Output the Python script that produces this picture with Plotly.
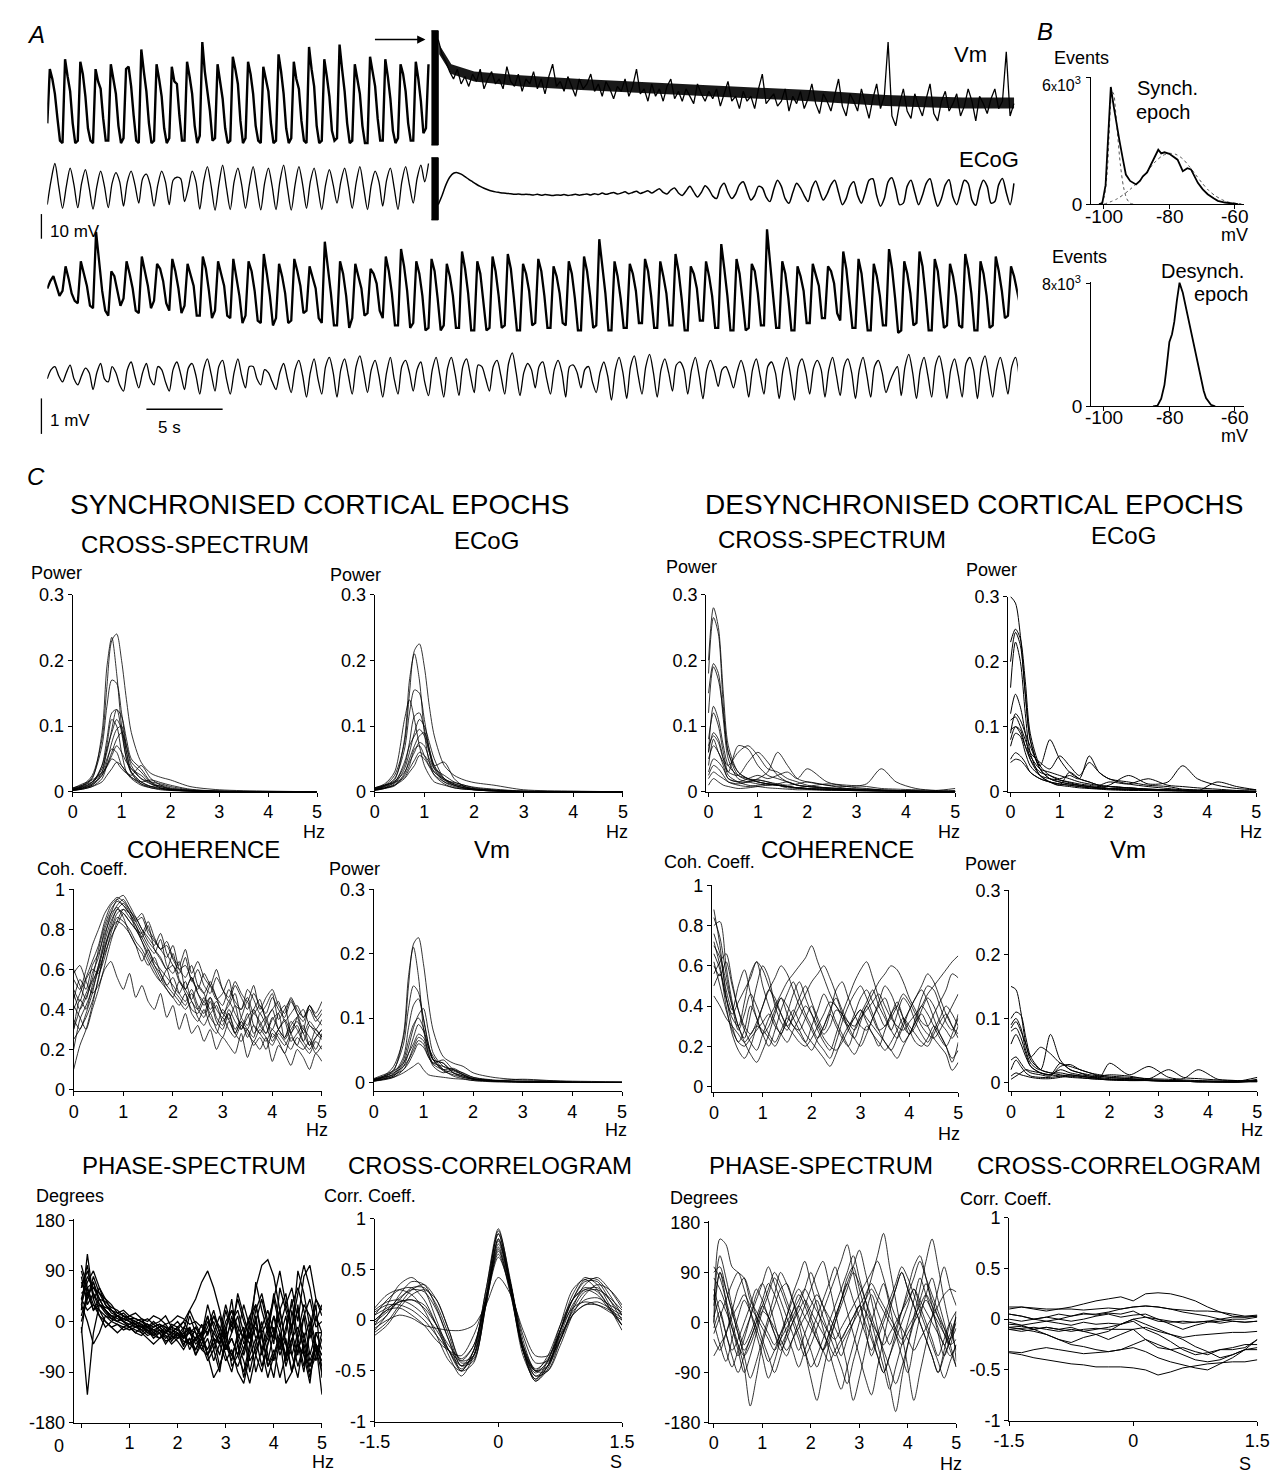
import numpy as np
import plotly.graph_objects as go

W, H = 1285, 1482
FONT = "Liberation Sans, Arial, sans-serif"

# ================= Panel A : raw traces (Vm in mV, ECoG in mV) =================
vm1_sync_dt = 1 / 6
vm1_sync = [-88,-66,-70,-76,-86,-95, -96,-62,-69,-75,-88,-96, -95,-63,-68,-77,-90,-95, -96,-66,-71,-74,-86,-95,
            -95,-64,-70,-76,-89,-96, -94,-66,-65,-73,-85,-95, -96,-58,-67,-75,-88,-96, -95,-64,-70,-77,-90,-96,
            -94,-65,-71,-72,-85,-95, -95,-63,-69,-76,-89,-96, -93,-55,-67,-75,-83,-95, -94,-64,-72,-78,-90,-96,
            -95,-61,-66,-72,-87,-96, -94,-63,-68,-76,-89,-95, -96,-65,-70,-75,-88,-96, -95,-60,-67,-76,-90,-96,
            -94,-63,-70,-74,-87,-95, -96,-57,-66,-73,-89,-96, -95,-62,-69,-77,-91,-95, -94,-56,-66,-75,-88,-96,
            -95,-64,-70,-76,-89,-96, -96,-61,-67,-73,-86,-95, -95,-62,-69,-78,-91,-96, -94,-64,-68,-75,-88,-95,
            -95,-63,-70,-79,-92,-90, -64]
vm1_desync_t0 = 25.64
vm1_desync_dt = 0.25
vm1_desync = [-54,-60,-63,-67,-70,-66,-72,-69, -73,-68,-71,-66,-74,-70,-67,-72, -70,-74,-65,-71,-73,-68,-75,-70,
              -72,-67,-74,-70,-76,-69,-64,-73, -71,-75,-69,-73,-77,-70,-74,-72, -68,-75,-72,-77,-71,-74,-78,-73,
              -75,-70,-77,-73,-66,-76,-74,-79, -72,-77,-74,-79,-73,-70,-78,-75, -79,-74,-77,-80,-72,-76,-79,-75,
              -78,-74,-81,-76,-71,-79,-77,-82, -75,-79,-77,-82,-74,-68,-80,-78, -76,-81,-79,-74,-83,-77,-80,-75,
              -82,-78,-72,-80,-84,-76,-79,-83, -77,-70,-81,-85,-76,-79,-83,-74, -80,-86,-78,-72,-82,-77,-55,-85,
              -89,-80,-74,-83,-86,-76,-81,-85, -78,-72,-84,-87,-79,-75,-83,-80, -76,-85,-81,-74,-79,-87,-77,-80,
              -84,-78,-74,-82,-79,-59,-85,-80]
# envelope of the dense membrane-potential noise band after the stimulus
vm1_band_t = [25.7, 26.5, 28, 31, 35, 40, 45, 50, 55, 60, 63.4]
vm1_band_hi = [-56, -64, -67, -68.5, -70, -71.5, -73, -74.5, -76.5, -77.5, -77.5]
vm1_band_lo = [-60, -68, -71, -73, -74.5, -76, -77.5, -79, -81, -82, -82]
ecog1_sync_dt = 0.25
ecog1_sync = [-0.5,0.3,0.85,0.1, -0.62,0.1,0.7,0.15, -0.6,0.2,0.65,0.05, -0.65,0.1,0.6,0.1, -0.6,0.2,0.55,0.25,
              -0.55,0.25,0.6,0.15, -0.45,0.35,0.5,0.15, -0.55,0.15,0.6,0.25, -0.5,0.3,0.4,0.35, -0.4,0.05,0.6,0.25,
              -0.65,0.25,0.75,0.1, -0.68,0.15,0.8,0.05, -0.66,0.25,0.7,0.15, -0.62,0.15,0.75,0.05, -0.67,0.2,0.7,0.1,
              -0.66,0.25,0.8,0.05, -0.68,0.15,0.75,0.15, -0.62,0.25,0.7,0.05, -0.66,0.15,0.65,0.15, -0.45,0.25,0.7,0.1,
              -0.62,0.2,0.75,0.05, -0.66,0.15,0.6,0.25, -0.55,0.3,0.7,0.05, -0.66,0.25,0.75,0.15, -0.45,0.35,0.8,0.25,
              0.85]
ecog1_desync_t0 = 25.64
ecog1_desync_dt = 0.25
ecog1_desync = [-0.5,-0.2,0.15,0.4,0.53,0.55,0.5,0.42, 0.33,0.25,0.17,0.1,0.04,-0.01,-0.05,-0.08,
                -0.1,-0.12,-0.13,-0.14,-0.16,-0.15,-0.17,-0.16, -0.17,-0.18,-0.16,-0.19,-0.17,-0.18,-0.2,-0.18,
                -0.19,-0.17,-0.2,-0.18,-0.16,-0.19,-0.17,-0.15, -0.18,-0.14,-0.17,-0.12,-0.16,-0.13,-0.1,-0.15,
                -0.12,-0.08,-0.14,-0.1,-0.06,-0.13,-0.09,-0.04, -0.12,-0.05,0.02,-0.1,-0.15,-0.02,0.05,-0.12,
                -0.2,-0.05,0.1,-0.08,-0.25,-0.1,0.12,0.0, -0.22,-0.3,0.05,0.2,-0.1,-0.3,-0.15,0.15,
                0.25,-0.05,-0.35,-0.2,0.1,0.05,-0.25,-0.4, 0.0,0.3,0.1,-0.3,-0.45,-0.1,0.2,0.05,
                -0.2,-0.4,0.05,0.28,-0.05,-0.35,-0.15,0.15, 0.3,-0.1,-0.5,-0.3,0.1,0.25,-0.2,-0.45,
                -0.1,0.3,0.35,-0.2,-0.55,-0.3,0.25,0.38, 0.0,-0.5,-0.45,0.1,0.3,-0.1,-0.5,-0.2,
                0.2,0.35,-0.15,-0.55,-0.3,0.15,0.32,-0.25, -0.5,-0.1,0.3,0.2,-0.35,-0.52,0.0,0.3,
                0.1,-0.45,-0.4,0.15,0.36,-0.1,-0.5,0.2]
vm2_dt = 0.2
vm2 = [-81,-78,-76,-80,-84, -82,-72,-77,-83,-86, -87,-70,-75,-80,-88, -89,-58,-70,-82,-90, -92,-74,-76,-82,-88,
       -85,-70,-75,-81,-90, -91,-68,-74,-80,-89, -86,-71,-73,-78,-87, -90,-69,-74,-81,-91, -88,-71,-76,-80,-92,
       -92,-68,-73,-82,-93, -90,-70,-75,-80,-92, -93,-69,-76,-84,-95, -92,-70,-74,-82,-94, -95,-67,-75,-84,-96,
       -93,-71,-76,-83,-95, -94,-69,-74,-80,-91, -90,-72,-76,-81,-93, -95,-62,-72,-83,-96, -96,-70,-75,-84,-97,
       -93,-71,-76,-81,-92, -91,-73,-75,-79,-90, -93,-68,-74,-83,-96, -96,-65,-72,-82,-97, -95,-70,-75,-84,-98,
       -97,-69,-74,-85,-98, -96,-71,-76,-84,-97, -97,-66,-73,-83,-98, -98,-70,-75,-86,-98, -97,-68,-74,-84,-97,
       -96,-67,-73,-85,-98, -98,-71,-75,-82,-96, -95,-69,-74,-84,-97, -97,-72,-76,-83,-95, -96,-70,-75,-85,-98,
       -98,-68,-74,-84,-97, -96,-61,-72,-83,-98, -98,-70,-76,-85,-97, -97,-71,-75,-82,-95, -95,-69,-74,-84,-97,
       -97,-70,-76,-83,-96, -96,-67,-74,-85,-98, -98,-72,-75,-81,-94, -94,-70,-76,-84,-97, -97,-63,-73,-84,-98,
       -98,-69,-75,-86,-98, -97,-71,-74,-83,-96, -96,-57,-72,-84,-97, -97,-70,-75,-85,-98, -98,-72,-76,-82,-95,
       -95,-71,-75,-80,-93, -93,-72,-74,-79,-91, -94,-66,-73,-84,-97, -97,-69,-75,-86,-98, -98,-71,-76,-84,-96,
       -96,-65,-73,-85,-99, -98,-70,-75,-83,-96, -95,-66,-72,-84,-98, -98,-69,-74,-85,-97, -96,-71,-76,-84,-96,
       -97,-67,-73,-83,-98, -98,-70,-75,-84,-97, -96,-68,-74,-82,-93, -92,-72,-76,-82,-88]
ecog2_dt = 0.25
ecog2 = [-0.1,0.2,0.3,0.0, -0.2,0.1,0.35,-0.1, -0.3,0.0,0.25,0.1, -0.45,0.1,0.4,-0.1, -0.2,0.3,0.1,-0.3,
         -0.5,0.2,0.45,0.0, -0.4,0.1,0.4,-0.1, -0.3,0.3,0.2,-0.2, -0.5,0.2,0.45,0.05, -0.45,0.25,0.4,0.0,
         -0.6,0.2,0.55,0.05, -0.5,0.3,0.5,-0.1, -0.6,0.1,0.55,0.0, -0.4,0.3,0.3,-0.1, -0.3,0.2,0.1,-0.2,
         -0.45,0.1,0.4,-0.1, -0.55,0.2,0.5,0.0, -0.7,0.1,0.55,-0.1, -0.6,0.3,0.6,0.1, -0.7,0.2,0.55,0.0,
         -0.6,0.3,0.65,0.1, -0.55,0.2,0.5,0.0, -0.7,0.1,0.6,-0.1, -0.6,0.3,0.5,0.1, -0.5,0.2,0.45,-0.2,
         -0.65,0.2,0.6,0.0, -0.7,0.25,0.6,0.05, -0.65,0.3,0.55,0.0, -0.55,0.35,0.3,-0.1, -0.5,0.3,0.5,0.0,
         -0.6,0.4,0.75,0.1, -0.65,0.1,0.4,0.2, -0.4,0.3,0.45,-0.1, -0.6,0.2,0.5,0.1, -0.7,0.3,0.35,0.1,
         -0.4,0.2,0.3,-0.2, -0.55,0.1,0.45,0.0, -0.8,0.2,0.6,0.1, -0.75,0.3,0.65,0.0, -0.6,0.3,0.7,0.1,
         -0.7,0.2,0.55,0.1, -0.5,0.35,0.45,0.2, -0.6,0.2,0.6,0.0, -0.75,0.2,0.5,0.15, -0.35,0.2,0.3,0.0,
         -0.4,0.15,0.5,0.1, -0.7,0.2,0.55,0.0, -0.6,0.3,0.45,0.1, -0.75,0.2,0.6,0.0, -0.8,0.3,0.55,0.1,
         -0.6,0.25,0.5,0.2, -0.7,0.2,0.6,0.0, -0.65,0.3,0.55,0.1, -0.75,0.2,0.6,0.0, -0.7,0.3,0.5,0.1,
         -0.55,-0.2,0.1,0.3, -0.65,0.3,0.7,0.1, -0.75,0.2,0.6,0.0, -0.7,0.35,0.65,0.1, -0.75,0.2,0.55,0.0,
         -0.7,0.4,0.6,0.2, -0.75,0.3,0.65,0.0, -0.7,0.2,0.6,0.1, -0.6,0.3,0.6,-0.1]
artifact_t = [25.19, 25.64]
artifact_vm = [-96.8, -50.4]
artifact_ecog = [-1.0, 1.04]
trace_span_s = 63.65

# ================= Panel B : Vm histograms (events x10^3) =================
syn_mv = [-101.5,-100.5,-99.5,-98.5,-97.9,-97,-96,-95.3,-94.3,-93.3,-92,-90.2,-89,-88.1,-86.8,-85.6,-84.5,-83.4,
          -82.5,-81.5,-80,-79,-77.5,-75.9,-74.5,-73.4,-72.3,-71.3,-69.8,-68.3,-66.5,-65.2,-63,-61.1,-59]
syn_ev = [0,0.05,0.9,3.6,5.53,4.6,3.6,3.04,2.2,1.4,1.1,0.93,1.1,1.32,1.5,1.87,2.2,2.57,2.4,2.45,2.38,2.25,2.1,
          1.56,1.7,1.64,1.3,1.01,0.7,0.47,0.28,0.16,0.08,0.03,0]
fit1_mv = [-101,-100,-99,-98.5,-98,-97.5,-97,-96.5,-96,-95,-94,-93,-92,-91]
fit1_ev = [0,0.3,1.5,3.0,4.6,5.3,5.2,4.5,3.6,1.9,0.8,0.25,0.05,0]
fit2_mv = [-100,-96,-92,-88,-86,-84,-82,-80,-78,-76,-74,-72,-70,-68,-66,-64,-62,-60,-58]
fit2_ev = [0,0.25,0.7,1.3,1.7,2.05,2.3,2.4,2.35,2.15,1.8,1.4,1.0,0.65,0.4,0.22,0.1,0.05,0.02]
des_mv = [-85,-83.6,-82.5,-81.5,-81,-80,-79.2,-78.5,-77.7,-76.9,-75.9,-75,-74.4,-73.3,-72.3,-71.3,-70.3,-69.5,
          -68.8,-67.3,-66]
des_ev = [0,0.05,0.5,1.4,2.26,4.2,4.7,5.5,6.9,8.06,7.4,6.5,5.9,4.7,3.8,2.6,1.6,1.0,0.54,0.1,0]
hist_ticks = [-100, -80, -60]
hist_tick_labels = ["-100", "-80", "-60"]

# ================= Panel C : spectral analysis (power values x1e-3) =================
f_syn = [0,0.2,0.4,0.6,0.7,0.8,0.9,1.0,1.1,1.2,1.4,1.6,1.8,2.0,2.4,3,4,5]
f_des = [0,0.1,0.2,0.3,0.4,0.6,0.8,1.0,1.2,1.4,1.6,1.8,2.0,2.4,2.8,3.2,3.5,3.8,4.2,4.6,5]
f_coh = [0,.125,.25,.375,.5,.625,.75,.875,1,1.125,1.25,1.375,1.5,1.625,1.75,1.875,2,2.125,2.25,2.375,2.5,
         2.625,2.75,2.875,3,3.125,3.25,3.375,3.5,3.625,3.75,3.875,4,4.125,4.25,4.375,4.5,4.625,4.75,4.875,5]
lags = [-1.5,-1.35,-1.2,-1.05,-0.9,-0.75,-0.6,-0.45,-0.3,-0.15,0,0.15,0.3,0.45,0.6,0.75,0.9,1.05,1.2,1.35,1.5]

syn_cross = [
    [5,10,25,80,160,230,240,200,140,90,45,28,22,18,8,3,1,0],
    [3,8,20,90,190,235,180,100,50,30,15,8,5,3,1,0,0,0],
    [4,9,22,70,130,170,165,120,70,40,20,12,8,5,2,1,0,0],
    [2,5,12,40,80,120,125,90,50,28,12,6,4,2,1,0,0,0],
    [3,6,15,35,60,95,125,115,80,50,35,15,8,4,2,1,0,0],
    [2,5,10,30,70,110,100,60,30,20,10,6,3,2,1,0,0,0],
    [4,8,14,40,65,90,110,95,60,35,25,12,6,3,1,0,0,0],
    [3,6,10,25,45,75,95,100,60,30,15,8,5,3,1,0,0,0],
    [2,4,8,20,40,60,80,90,70,45,30,14,6,3,1,0,0,0],
    [5,12,18,30,50,65,60,40,30,25,40,20,10,4,2,0,0,0],
    [3,7,12,25,40,55,70,60,45,35,20,15,12,8,3,1,0,0],
    [6,10,15,28,38,50,45,35,28,22,15,18,14,10,4,1,0,0],
    [2,4,8,15,25,35,45,40,30,22,12,8,10,6,2,0,0,0]]
syn_ecog = [
    [5,10,25,75,150,215,225,190,130,85,40,25,18,14,10,3,1,0],
    [3,8,18,80,170,210,170,90,45,25,12,6,4,3,1,0,0,0],
    [4,9,20,65,120,155,150,110,65,38,18,10,6,4,2,1,0,0],
    [6,12,30,110,140,110,70,40,25,15,10,6,4,3,1,0,0,0],
    [3,6,15,40,75,115,120,95,60,35,15,8,5,3,1,0,0,0],
    [2,5,12,35,60,90,110,100,75,50,20,10,6,3,1,0,0,0],
    [4,8,14,45,70,85,95,85,60,40,45,20,8,4,2,0,0,0],
    [3,6,10,28,50,70,85,90,65,40,20,12,8,4,2,0,0,0],
    [5,10,16,30,45,60,75,70,50,35,25,15,10,6,3,1,0,0],
    [2,5,9,25,40,65,70,55,40,30,20,12,8,5,2,0,0,0],
    [6,10,14,22,35,48,60,55,45,30,18,14,10,7,4,1,0,0],
    [3,6,10,20,30,40,55,50,38,26,15,10,6,4,2,0,0,0]]
syn_vm = [
    [5,10,25,70,150,215,225,185,125,80,40,30,25,15,8,4,2,1],
    [3,8,18,75,165,210,165,85,45,25,15,20,12,6,3,1,0,0],
    [4,9,20,60,115,150,140,100,60,35,18,12,8,5,2,1,0,0],
    [3,6,14,40,85,120,130,100,60,35,30,15,8,5,3,2,0,0],
    [2,5,10,30,55,85,105,115,80,45,25,18,12,6,3,2,1,0],
    [4,8,12,35,65,90,100,85,55,40,20,10,6,3,1,0,0,0],
    [6,12,18,30,45,60,75,70,50,35,30,15,10,5,2,1,0,0],
    [3,6,10,25,45,70,90,80,55,35,20,15,10,5,2,1,0,0],
    [2,4,8,20,35,55,70,65,45,30,25,20,15,8,3,1,0,0],
    [5,10,15,25,35,50,65,60,40,28,20,22,14,8,4,1,0,0],
    [2,5,8,15,20,25,30,20,12,10,8,6,5,3,2,1,0,0],
    [4,8,12,20,30,45,60,55,40,30,35,20,12,6,3,5,1,0]]
des_cross = [
    [200,280,250,150,70,30,20,15,12,10,8,6,5,4,3,2,2,1,1,0,0],
    [180,265,240,130,60,25,18,15,12,10,8,6,5,4,3,2,1,1,0,0,0],
    [150,195,180,110,50,20,15,12,10,10,8,6,4,3,2,2,1,1,0,0,0],
    [120,190,170,120,60,30,20,18,15,10,6,5,4,3,2,1,1,0,0,0,0],
    [60,130,110,70,40,25,20,15,12,10,8,6,5,4,3,2,1,1,0,0,0],
    [80,120,100,60,30,70,65,40,25,20,15,10,8,5,3,2,2,1,1,0,0],
    [70,85,75,50,40,60,70,55,35,30,20,15,10,6,5,4,3,2,1,1,0],
    [40,80,60,45,30,25,45,60,45,25,15,10,8,6,4,3,2,2,1,0,0],
    [50,70,60,40,20,15,15,20,30,60,40,20,15,10,5,3,2,1,1,0,0],
    [30,50,45,35,20,15,20,25,20,25,30,20,35,15,8,5,3,2,1,0,0],
    [20,30,25,20,15,12,15,18,15,12,10,12,15,10,8,12,35,15,5,2,1],
    [25,40,35,25,15,10,8,10,12,10,8,6,8,12,10,8,5,4,3,2,5],
    [10,20,15,10,8,5,6,8,10,12,15,10,8,6,4,3,2,2,1,1,2],
    [60,90,80,50,25,15,10,8,6,5,4,3,3,2,2,1,1,1,0,0,0]]
des_ecog = [
    [300,290,240,150,80,35,20,15,12,10,8,6,5,4,3,2,2,1,1,0,0],
    [230,250,235,170,90,40,25,18,14,10,8,6,5,4,3,2,2,1,1,1,0],
    [200,245,225,150,80,35,20,15,12,10,8,6,5,4,3,2,1,1,1,0,0],
    [160,230,200,120,60,25,15,10,8,6,5,4,3,2,2,1,1,1,0,0,0],
    [90,120,110,90,70,40,80,50,30,20,15,10,8,6,4,3,2,2,1,0,0],
    [110,115,100,80,60,45,35,55,40,25,45,30,20,12,8,5,3,2,1,1,0],
    [80,100,95,70,50,30,25,20,25,20,55,30,20,15,10,8,4,3,2,1,1],
    [70,90,85,60,40,25,20,18,15,12,10,8,10,25,12,15,40,20,10,5,3],
    [50,60,55,45,30,20,15,12,10,8,6,5,8,6,4,3,2,1,15,8,3],
    [95,100,90,70,55,35,30,25,20,15,12,10,15,12,20,10,8,6,4,2,1],
    [45,50,48,40,30,20,15,12,10,8,6,5,4,3,2,2,1,1,1,0,0],
    [120,150,130,90,50,25,15,10,30,20,15,10,8,6,4,3,2,2,1,1,0]]
des_vm = [
    [150,145,110,60,35,20,15,12,10,8,6,5,4,3,3,2,2,1,1,1,5],
    [100,110,105,70,40,20,15,15,12,10,8,6,5,4,3,2,2,2,1,1,3],
    [90,100,85,50,30,20,75,35,20,15,12,10,8,6,4,3,2,2,1,1,2],
    [85,95,80,60,40,55,45,30,25,20,15,10,8,6,4,3,2,2,1,1,2],
    [80,85,70,45,25,15,12,30,20,15,10,8,30,12,25,8,6,20,5,3,2],
    [35,40,30,20,15,12,10,25,28,20,15,12,10,8,6,5,4,3,2,2,8],
    [20,35,25,15,10,8,8,10,12,10,8,10,12,10,6,20,8,6,4,3,2],
    [10,15,12,10,8,6,6,8,10,10,8,6,5,4,3,2,2,1,1,1,3],
    [60,75,60,40,25,15,12,10,8,7,6,5,4,3,3,2,2,1,1,1,2],
    [5,10,15,20,18,15,12,20,15,12,10,8,6,5,4,3,2,2,2,1,1]]

# coherence (x100)
syn_coh = [
    [55,50,60,72,80,88,93,96,94,90,85,88,80,75,70,72,65,60,62,55,50,58,52,45,48,55,42,40,50,45,38,42,48,35,40,45,38,30,42,36,40],
    [30,40,48,55,70,82,90,94,92,88,80,76,82,70,65,60,68,55,50,45,52,48,40,44,38,35,42,30,36,40,32,28,35,38,25,30,34,28,22,30,26],
    [45,55,50,62,68,78,86,92,95,90,84,78,72,68,75,62,58,64,50,56,48,44,52,46,38,42,48,36,32,40,45,34,30,38,42,28,36,40,32,30,35],
    [20,35,42,50,60,74,84,90,93,89,86,80,74,70,66,60,62,54,50,56,48,42,46,40,36,44,38,32,30,38,34,28,36,30,26,34,30,24,32,28,25],
    [60,52,45,58,66,80,88,91,86,78,72,64,70,62,56,50,46,54,48,40,38,44,36,32,40,35,28,34,30,26,38,32,24,30,35,28,22,30,26,20,28],
    [35,30,38,48,62,76,88,95,97,92,86,80,76,72,78,68,62,58,66,54,60,52,48,56,50,44,52,46,40,48,42,38,46,40,36,44,38,34,42,36,32],
    [50,44,55,60,58,66,78,86,84,80,74,70,64,58,54,60,50,46,42,48,40,36,44,34,30,38,28,34,26,32,28,24,30,26,22,28,32,24,20,26,30],
    [25,30,36,44,55,70,80,88,90,86,82,76,70,64,60,56,52,48,54,44,40,46,38,42,34,38,30,36,44,32,28,34,40,30,26,32,36,28,34,30,26],
    [40,48,56,64,72,84,92,95,92,88,84,86,78,74,70,66,72,60,56,62,52,48,54,46,42,50,44,40,46,38,42,36,40,44,34,38,42,36,40,34,38],
    [10,22,30,42,56,70,82,90,88,84,80,74,68,62,58,52,48,44,40,44,36,32,38,30,26,34,28,24,30,22,26,20,28,24,18,26,22,20,24,18,22],
    [58,62,54,48,52,60,64,56,50,58,46,52,44,40,48,36,42,30,38,28,32,24,30,20,26,22,18,28,16,24,20,26,14,22,18,12,20,16,10,18,14],
    [30,45,40,52,62,72,80,84,82,78,72,68,62,66,58,52,56,48,44,50,42,38,46,36,32,40,34,30,38,28,32,36,26,30,34,24,28,32,22,26,30],
    [48,40,46,54,60,68,76,82,88,84,80,78,84,76,70,74,66,62,70,58,64,56,52,60,50,46,54,48,44,52,40,46,50,42,38,46,40,36,42,38,44],
    [42,36,30,40,50,62,74,84,90,88,82,74,66,60,54,50,46,42,48,38,34,40,32,28,36,30,26,32,28,24,30,26,22,28,24,20,26,22,18,24,20]]
des_coh = [
    [88,70,45,30,22,28,40,34,26,30,38,44,36,30,28,34,40,32,26,30,38,36,28,24,32,40,34,28,30,36,42,34,26,30,38,44,40,32,28,24,30],
    [80,82,60,42,30,24,36,50,60,54,40,32,28,36,44,50,42,34,28,36,48,52,44,36,30,28,34,42,50,46,38,30,26,34,44,50,48,40,32,28,36],
    [70,64,48,38,50,58,46,34,26,20,28,38,46,52,44,36,30,24,30,38,44,36,30,24,20,26,34,40,44,36,28,22,26,32,40,36,30,24,20,26,34],
    [60,55,62,50,38,28,22,18,26,34,40,46,52,56,60,64,70,62,54,46,40,36,32,30,34,38,42,46,40,34,30,28,32,36,40,46,50,54,58,62,65],
    [76,66,52,40,30,22,16,12,18,26,36,44,40,34,28,22,18,24,30,36,30,24,20,28,36,42,48,40,34,28,36,44,40,32,26,22,28,34,40,36,30],
    [50,56,44,36,42,48,54,62,58,50,42,36,30,34,40,46,52,56,60,54,46,38,32,28,34,40,46,52,56,60,58,52,44,38,32,30,36,42,48,56,54],
    [66,58,40,26,18,14,20,30,40,48,54,60,56,48,40,34,28,22,18,14,22,32,40,46,50,44,36,28,22,18,24,32,38,44,48,42,34,26,20,14,18],
    [84,74,56,40,28,36,46,40,32,26,22,28,34,30,26,22,30,38,46,40,32,26,20,16,22,30,26,20,28,36,40,34,28,22,20,24,30,26,20,12,22],
    [56,62,66,52,38,30,26,32,40,48,44,36,30,26,22,20,24,30,36,42,40,34,30,36,44,48,42,36,30,34,40,46,42,36,30,26,24,28,34,40,46],
    [45,40,34,30,26,22,26,30,28,24,20,26,32,38,32,26,22,18,14,10,16,24,30,34,38,32,26,22,18,22,28,34,30,26,22,20,26,32,36,30,24],
    [72,60,44,34,30,42,56,62,50,40,32,26,36,46,52,44,36,28,22,18,26,36,44,52,58,62,54,44,36,28,24,30,38,44,50,56,52,44,36,30,26],
    [62,50,38,28,22,20,24,28,32,36,30,26,22,28,34,40,36,30,24,20,18,22,28,34,38,34,30,26,22,18,14,20,26,32,36,30,24,20,16,8,12]]

# phase (degrees)
syn_phase = [
    [60,90,50,30,20,10,5,0,-5,-10,-8,-12,-15,-10,-20,-25,-15,0,20,40,70,90,60,20,-30,-60,-80,-50,0,60,100,110,80,20,-40,-60,-20,30,10,-40,-60],
    [20,120,40,60,30,15,10,5,0,-5,-10,-5,-15,-20,-10,-25,-30,-20,-40,-10,-30,-50,-20,10,-40,-70,-20,30,-10,-60,-90,-40,10,-50,-20,40,-30,-80,-20,30,-100],
    [-10,-130,-20,30,15,5,10,0,5,-5,0,-10,-5,-15,-20,-10,-30,-25,-10,-35,-20,10,-30,-60,-10,20,-20,-50,-10,30,-30,-70,-20,20,-40,-90,-30,10,-60,-20,-20],
    [40,80,60,50,40,20,15,10,5,0,-5,-10,-20,-15,-25,-30,-20,-35,-40,-30,-50,-60,-30,-40,-70,-50,-90,-110,-60,-30,-80,-40,-10,-60,-30,-90,-50,-20,-70,-40,-80],
    [80,30,50,20,10,0,-5,-10,-5,0,-10,-20,-10,-5,-15,-20,-25,-10,-20,-30,-5,-25,10,-20,30,-10,40,0,-30,20,50,0,-40,60,20,-20,90,50,-10,40,10],
    [50,60,70,40,35,25,20,10,5,5,0,-5,-10,-5,-10,-15,-20,-30,-20,-40,-30,-10,20,-20,-50,-30,-60,-90,-40,-10,-50,-100,-60,-20,-70,-30,-10,-50,-100,-40,-60],
    [30,0,-40,-20,10,5,0,-5,-10,-15,-20,-30,-40,-30,-20,-10,-15,-25,-40,-50,-30,-60,-40,-20,-50,-30,-60,-20,10,-30,-10,20,-20,-50,-10,30,60,20,-30,10,-20],
    [10,50,20,30,20,10,10,5,10,15,5,0,10,5,-5,0,10,5,-5,0,-10,-20,10,-10,-30,0,20,-20,-40,0,40,-10,-30,20,50,-20,-60,10,40,-10,0],
    [60,100,40,10,-10,0,10,0,-10,-20,-10,-15,-25,-20,-35,-30,-20,-40,-30,-50,-20,-60,-100,-80,-40,-60,-30,-10,-70,-50,-20,-80,-60,-30,-110,-90,-40,-60,-80,-40,-130],
    [0,40,70,30,25,20,10,15,5,0,5,-10,0,-10,-20,-5,-10,-30,-15,-20,-40,-20,0,-30,-50,-20,10,-40,-20,0,-50,-30,10,-20,-60,-10,20,-30,0,-50,-90],
    [40,20,30,10,0,-10,-5,-15,-10,-20,-25,-15,-30,-20,-40,-25,-35,-50,-30,-60,-40,-70,-50,-20,-60,-90,-40,-70,-110,-60,-20,-80,-50,-100,-60,-30,-80,-40,-90,-60,-20],
    [90,50,60,40,20,10,0,5,0,-10,-15,-5,-20,-10,-5,-20,-10,0,-20,-10,-30,0,-20,-40,0,20,-10,-30,10,30,-20,0,40,-10,30,60,0,80,100,40,20],
    [70,40,80,50,30,20,10,0,-10,-5,-15,-25,-20,-30,-15,-35,-20,-45,-10,-60,-30,10,-50,-90,-20,40,-40,-100,-50,10,-60,-20,50,0,-80,-40,30,-60,-110,-20,-50],
    [100,60,20,40,20,5,0,10,0,-5,-20,-10,-25,-15,-30,-20,-10,-30,10,-20,-50,-30,-70,-40,-10,-80,-60,-20,-90,-40,0,-60,-100,-30,-70,20,-40,-90,-10,-70,-30],
    [-20,60,30,20,0,-10,-20,-10,-15,-10,-5,-20,-25,-30,-25,-40,-30,-15,-50,-30,-20,-60,-30,-80,-40,10,-30,-60,-20,-90,-50,-10,-70,-30,10,-60,-100,-30,-80,-50,-70],
    [30,70,90,60,40,30,15,20,10,5,0,5,-5,0,10,-10,0,-15,20,-5,-25,30,-10,-40,20,-20,50,10,-30,70,20,-20,40,90,30,-10,50,100,60,0,30]]
des_phase = [
    [0,150,140,100,90,80,40,20,0,-20,-40,-20,0,20,40,60,40,20,0,-20,-30,-10,10,30,50,70,90,110,80,40,10,-10,-30,-50,-30,-10,10,30,50,60,55],
    [100,80,40,0,-40,-80,-150,-100,-40,0,30,60,70,40,0,-50,-100,-140,-90,-40,0,40,80,100,60,20,-20,-60,-90,-60,-20,20,60,100,120,80,30,-20,-60,-30,10],
    [30,90,40,-30,-60,-30,10,50,70,40,0,-40,-60,-30,0,30,60,90,110,70,20,-30,-80,-140,-100,-50,0,40,70,30,-20,-60,-90,-40,10,50,80,40,0,-40,-80],
    [-60,-40,-20,20,60,80,50,10,-30,-60,-90,-60,-20,20,50,30,0,-30,-50,-20,10,40,70,100,130,90,40,-10,-60,-110,-160,-100,-40,10,60,110,150,100,40,-10,-50],
    [40,120,80,30,-10,-40,-20,10,40,70,50,20,-20,-50,-80,-50,-20,10,40,70,100,60,20,-20,-60,-100,-130,-80,-30,20,60,90,60,30,0,-30,-60,-90,-50,0,20],
    [0,-40,-70,-30,10,40,20,-10,-40,-70,-50,-20,10,40,60,40,10,-20,-50,-30,0,30,60,90,70,40,10,-20,-50,-80,-110,-80,-40,0,40,70,40,10,-20,-50,-80],
    [80,60,30,-10,-50,-90,-60,-20,20,50,80,60,30,0,-30,-60,-40,-10,20,50,80,110,140,90,40,-10,-60,-30,0,30,60,90,60,30,0,-30,-60,-90,-60,-30,0],
    [-20,10,40,70,90,60,20,-20,-60,-100,-70,-30,10,50,80,110,70,30,-10,-50,-90,-120,-80,-40,0,40,80,120,160,100,40,-20,-80,-140,-90,-40,10,60,100,60,30],
    [60,20,-20,-50,-30,0,30,60,40,10,-20,-40,-20,0,20,40,20,0,-20,-40,-60,-40,-20,0,20,40,60,40,20,0,-20,-40,-20,0,20,40,20,0,-20,-40,-30],
    [10,40,20,-10,-40,-60,-40,-10,20,10,-10,-30,-50,-30,-10,10,30,50,30,10,-10,-30,-10,10,30,20,0,-20,-40,-20,0,20,40,60,40,20,0,-20,-40,-60,-40],
    [0,90,60,20,-20,-60,-100,-70,-30,10,50,90,70,40,10,-20,-50,-80,-50,-20,10,40,70,40,10,-20,-50,-20,10,40,70,100,80,50,20,-10,-40,-70,-100,-70,-40],
    [-30,-50,-20,10,30,50,30,10,-10,-30,-50,-30,-10,10,30,10,-10,-30,-50,-70,-50,-30,-10,10,30,50,70,50,30,10,-10,-30,-10,10,30,50,30,10,-10,-30,-10],
    [90,100,60,20,-20,-50,-30,0,30,60,90,70,40,10,-20,-50,-80,-60,-30,0,30,60,90,120,80,40,0,-40,-80,-120,-80,-40,0,40,80,50,20,-10,-40,-20,10],
    [-10,20,-20,-60,-90,-60,-30,0,30,10,-20,-50,-30,0,30,60,90,60,30,0,-30,-60,-30,0,30,0,-30,-60,-90,-60,-30,0,30,60,30,0,-30,-60,-30,0,-70],
    [50,0,-50,-80,-50,-20,10,40,70,100,70,40,10,-20,-50,-20,10,40,10,-20,-50,-80,-110,-70,-30,10,50,20,-10,-40,-10,20,50,80,110,80,50,20,-10,-40,20]]

# cross-correlograms (corr. coeff.)
syn_corr = [
    [-0.05,0.15,0.35,0.42,0.3,0.0,-0.3,-0.5,-0.3,0.3,0.9,0.35,-0.3,-0.6,-0.45,-0.1,0.25,0.42,0.35,0.15,-0.05],
    [0.05,0.2,0.3,0.32,0.2,-0.05,-0.35,-0.55,-0.35,0.25,0.85,0.3,-0.35,-0.58,-0.4,-0.05,0.3,0.4,0.3,0.12,-0.1],
    [0.0,0.1,0.22,0.3,0.28,0.1,-0.2,-0.45,-0.35,0.2,0.8,0.3,-0.3,-0.55,-0.45,-0.15,0.15,0.3,0.32,0.2,0.05],
    [-0.15,-0.05,0.12,0.25,0.3,0.2,-0.1,-0.4,-0.35,0.2,0.78,0.3,-0.25,-0.5,-0.45,-0.2,0.1,0.28,0.3,0.22,0.1],
    [0.1,0.18,0.2,0.15,0.05,-0.1,-0.3,-0.45,-0.3,0.2,0.7,0.25,-0.3,-0.5,-0.35,-0.05,0.2,0.3,0.25,0.1,-0.05],
    [-0.1,0.05,0.2,0.32,0.32,0.15,-0.15,-0.45,-0.4,0.15,0.75,0.35,-0.2,-0.5,-0.5,-0.25,0.05,0.25,0.35,0.3,0.15],
    [0.0,0.1,0.12,0.05,-0.05,-0.2,-0.3,-0.35,-0.15,0.2,0.62,0.3,-0.15,-0.42,-0.4,-0.2,0.05,0.15,0.15,0.1,0.02],
    [-0.08,0.0,0.05,0.02,-0.05,-0.08,-0.1,-0.1,-0.05,0.15,0.42,0.25,-0.1,-0.35,-0.35,-0.15,0.05,0.15,0.18,0.12,0.05],
    [0.12,0.25,0.3,0.25,0.1,-0.15,-0.4,-0.5,-0.3,0.3,0.85,0.35,-0.3,-0.58,-0.45,-0.1,0.2,0.38,0.38,0.2,0.0],
    [-0.02,0.08,0.18,0.2,0.15,-0.05,-0.3,-0.48,-0.35,0.15,0.68,0.28,-0.3,-0.52,-0.4,-0.1,0.2,0.32,0.28,0.12,-0.05],
    [0.08,0.15,0.15,0.1,0.0,-0.15,-0.3,-0.4,-0.25,0.2,0.72,0.3,-0.25,-0.48,-0.38,-0.1,0.12,0.18,0.15,0.08,0.0],
    [-0.12,-0.02,0.15,0.3,0.35,0.2,-0.1,-0.42,-0.38,0.15,0.8,0.35,-0.25,-0.55,-0.5,-0.2,0.12,0.35,0.42,0.3,0.12],
    [0.05,0.12,0.18,0.2,0.12,-0.05,-0.25,-0.38,-0.25,0.22,0.65,0.25,-0.28,-0.5,-0.42,-0.18,0.08,0.2,0.22,0.15,0.08],
    [-0.05,0.05,0.25,0.38,0.35,0.12,-0.2,-0.5,-0.42,0.2,0.88,0.38,-0.3,-0.6,-0.48,-0.12,0.2,0.4,0.4,0.25,0.05]]
des_corr = [
    [0.12,0.12,0.11,0.1,0.1,0.12,0.15,0.18,0.2,0.22,0.18,0.25,0.26,0.25,0.22,0.18,0.12,0.07,0.03,0.02,0.03],
    [0.1,0.12,0.1,0.08,0.1,0.1,0.09,0.1,0.11,0.1,0.12,0.13,0.12,0.1,0.09,0.08,0.08,0.07,0.05,0.03,0.04],
    [0.05,0.03,0.0,0.02,0.05,0.03,0.06,0.04,0.06,0.05,0.08,0.02,-0.02,-0.03,-0.02,-0.03,-0.02,0.0,0.02,0.02,0.03],
    [0.0,-0.02,0.0,0.02,0.0,-0.02,0.0,0.03,0.05,0.02,0.04,0.05,0.0,-0.05,-0.1,-0.06,-0.03,-0.02,0.0,0.0,0.02],
    [-0.05,-0.06,-0.04,-0.02,-0.04,-0.06,-0.03,-0.05,-0.04,-0.05,0.0,0.02,0.0,-0.02,-0.04,-0.03,-0.02,-0.04,-0.02,-0.03,-0.02],
    [-0.08,-0.07,-0.1,-0.08,-0.1,-0.08,-0.12,-0.1,-0.08,-0.05,-0.02,-0.1,-0.15,-0.22,-0.3,-0.35,-0.33,-0.3,-0.28,-0.25,-0.25],
    [-0.1,-0.12,-0.1,-0.08,-0.1,-0.12,-0.1,-0.09,-0.1,-0.1,-0.1,-0.08,-0.12,-0.15,-0.18,-0.16,-0.15,-0.14,-0.13,-0.13,-0.12],
    [-0.03,-0.06,-0.1,-0.15,-0.2,-0.23,-0.18,-0.15,-0.12,-0.05,0.0,-0.05,-0.1,-0.15,-0.2,-0.27,-0.32,-0.38,-0.35,-0.3,-0.28],
    [-0.08,-0.1,-0.12,-0.15,-0.2,-0.25,-0.27,-0.3,-0.32,-0.3,-0.25,-0.2,-0.25,-0.3,-0.35,-0.4,-0.42,-0.4,-0.35,-0.3,-0.3],
    [-0.32,-0.33,-0.3,-0.28,-0.3,-0.32,-0.34,-0.33,-0.32,-0.3,-0.28,-0.32,-0.38,-0.42,-0.45,-0.48,-0.5,-0.44,-0.38,-0.3,-0.2],
    [-0.33,-0.35,-0.38,-0.4,-0.42,-0.44,-0.45,-0.47,-0.47,-0.47,-0.48,-0.5,-0.55,-0.52,-0.48,-0.46,-0.44,-0.43,-0.42,-0.42,-0.4],
    [0.05,0.03,0.0,-0.02,0.0,0.03,0.05,0.05,0.07,0.1,0.12,0.13,0.12,0.1,0.07,0.05,0.03,0.0,-0.02,-0.03,-0.02],
    [-0.1,-0.09,-0.08,-0.1,-0.12,-0.1,-0.12,-0.15,-0.2,-0.15,-0.1,-0.2,-0.28,-0.3,-0.28,-0.32,-0.35,-0.3,-0.3,-0.28,-0.2]]

# ======================= figure construction =======================
fig = go.Figure()
layout = {}
n_axes = [0]
BLACK = "black"


def new_axes(box, xr, yr, visible=True, xt=None, yt=None, tick_size=18, xlabels=True):
    """box = (left, right, top, bottom) in page pixels for the range ends."""
    n_axes[0] += 1
    n = n_axes[0]
    xa = "xaxis" if n == 1 else f"xaxis{n}"
    ya = "yaxis" if n == 1 else f"yaxis{n}"
    xr_ = "x" if n == 1 else f"x{n}"
    yr_ = "y" if n == 1 else f"y{n}"
    l, r, t, b = box
    base = dict(showgrid=False, zeroline=False, fixedrange=True)
    if visible:
        base.update(showline=True, linecolor=BLACK, linewidth=1, ticks="outside", ticklen=4,
                    tickwidth=1, tickcolor=BLACK, tickfont=dict(size=tick_size, color=BLACK, family=FONT))
    else:
        base.update(visible=False)
    xd = dict(base, domain=[l / W, r / W], range=xr, anchor=yr_)
    yd = dict(base, domain=[1 - b / H, 1 - t / H], range=yr, anchor=xr_)
    if xt is not None:
        xd.update(tickmode="array", tickvals=xt[0], ticktext=xt[1])
    if yt is not None:
        yd.update(tickmode="array", tickvals=yt[0], ticktext=yt[1])
    if not xlabels:
        xd.update(showticklabels=False)
    layout[xa] = xd
    layout[ya] = yd
    return xr_, yr_


def line(ax, x, y, width=1.0, shape="linear", dash="solid", color=BLACK, smoothing=0.8):
    ln = dict(color=color, width=width, shape=shape, dash=dash)
    if shape == "spline":
        ln["smoothing"] = smoothing
    n = min(len(x), len(y))
    fig.add_trace(go.Scatter(x=list(x)[:n], y=list(y)[:n], mode="lines", line=ln, xaxis=ax[0], yaxis=ax[1],
                             hoverinfo="skip", showlegend=False))


annotations = []


def text(s, px, py, size, italic=False, xanchor="center"):
    if italic:
        s = f"<i>{s}</i>"
    annotations.append(dict(text=s, x=px / W, y=1 - py / H, xref="paper", yref="paper", showarrow=False,
                            xanchor=xanchor, yanchor="middle", font=dict(size=size, color=BLACK, family=FONT)))


# ---------------- Panel A ----------------
A_X = (32, 1025)
ax_vm1 = new_axes((A_X[0], A_X[1], 18, 145), [0, trace_span_s], [-100, -49.2], visible=False)
ax_ec1 = new_axes((A_X[0], A_X[1], 148, 216), [0, trace_span_s], [-1.1, 1.1], visible=False)
ax_vm2 = new_axes((A_X[0], A_X[1], 222, 330), [0, trace_span_s], [-100, -56.8], visible=False)
ax_ec2 = new_axes((A_X[0], A_X[1], 340, 402), [0, trace_span_s], [-1.0, 1.0], visible=False)

# noise band (envelope) of desynchronised Vm
fig.add_trace(go.Scatter(x=vm1_band_t + vm1_band_t[::-1], y=vm1_band_hi + vm1_band_lo[::-1], fill="toself",
                         fillcolor="rgba(0,0,0,0.9)", mode="lines", line=dict(width=0),
                         xaxis=ax_vm1[0], yaxis=ax_vm1[1], hoverinfo="skip", showlegend=False))
t = np.arange(len(vm1_sync)) * vm1_sync_dt
line(ax_vm1, t, vm1_sync, width=2.4)
t = vm1_desync_t0 + np.arange(len(vm1_desync)) * vm1_desync_dt
line(ax_vm1, t, vm1_desync, width=1.3)
t = np.arange(len(ecog1_sync)) * ecog1_sync_dt
line(ax_ec1, t, ecog1_sync, width=1.3, shape="spline")
t = ecog1_desync_t0 + np.arange(len(ecog1_desync)) * ecog1_desync_dt
line(ax_ec1, t, ecog1_desync, width=1.5, shape="spline")
t = np.arange(len(vm2)) * vm2_dt
line(ax_vm2, t, vm2, width=2.3)
t = np.arange(len(ecog2)) * ecog2_dt
line(ax_ec2, t, ecog2, width=1.3, shape="spline")

for ax, yy in ((ax_vm1, artifact_vm), (ax_ec1, artifact_ecog)):
    fig.add_trace(go.Scatter(x=[artifact_t[0], artifact_t[1], artifact_t[1], artifact_t[0]],
                             y=[yy[0], yy[0], yy[1], yy[1]], fill="toself", fillcolor=BLACK, mode="lines",
                             line=dict(color=BLACK, width=1), xaxis=ax[0], yaxis=ax[1],
                             hoverinfo="skip", showlegend=False))
annotations.append(dict(x=24.8, y=-54, xref=ax_vm1[0], yref=ax_vm1[1], text="", showarrow=True, ax=-52, ay=0,
                        arrowhead=2, arrowsize=1.1, arrowwidth=1.5, arrowcolor=BLACK))

text("A", 20, 25, 24, italic=True)
text("Vm", 977, 45, 22)
text("ECoG", 995, 152, 22)
text("10 mV", 33, 225, 17, xanchor="left")
text("1 mV", 33, 416, 17, xanchor="left")
text("5 s", 157, 423, 17)
shapes = [
    dict(type="line", xref="paper", yref="paper", x0=26 / W, x1=26 / W, y0=1 - 207 / H, y1=1 - 232 / H,
         line=dict(color=BLACK, width=1.3)),
    dict(type="line", xref="paper", yref="paper", x0=26 / W, x1=26 / W, y0=1 - 394 / H, y1=1 - 430 / H,
         line=dict(color=BLACK, width=1.3)),
    dict(type="line", xref=ax_vm2[0], yref="paper", x0=6.5, x1=11.5, y0=1 - 405 / H, y1=1 - 405 / H,
         line=dict(color=BLACK, width=1.3)),
]

# ---------------- Panel B ----------------
hxt = (hist_ticks, hist_tick_labels)
ax_h1 = new_axes((1100, 1256, 68, 197), [-103.9, -57.3], [0, 6.0], xt=hxt, yt=([0, 6], ["0", ""]),
                 tick_size=19, xlabels=False)
ax_h2 = new_axes((1100, 1256, 276, 402), [-103.9, -57.3], [0, 8.1], xt=hxt, yt=([0, 8], ["0", ""]),
                 tick_size=19, xlabels=False)
line(ax_h1, fit1_mv, fit1_ev, width=1.0, shape="spline", dash="dot", color="#555")
line(ax_h1, fit2_mv, fit2_ev, width=1.0, shape="spline", dash="dot", color="#555")
line(ax_h1, syn_mv, syn_ev, width=1.8)
line(ax_h2, des_mv, des_ev, width=1.8)
for ax, ylab in ((ax_h1, 209), (ax_h2, 413)):
    for v, lab in zip(hist_ticks, hist_tick_labels):
        annotations.append(dict(text=lab, x=v, xref=ax[0], y=1 - ylab / H, yref="paper", showarrow=False,
                                xanchor="center", yanchor="middle", font=dict(size=19, color=BLACK, family=FONT)))
text("B", 1053, 22, 24, italic=True)
text("Events", 1090, 49, 18)
text("6<span style='font-size:12px'>x</span>10<sup>3</sup>", 1070, 75, 16)
text("Synch.", 1178, 79, 20)
text("epoch", 1174, 103, 20)
text("mV", 1247, 228, 18)
text("Events", 1088, 251, 18)
text("8<span style='font-size:12px'>x</span>10<sup>3</sup>", 1070, 277, 16)
text("Desynch.", 1214, 265, 20)
text("epoch", 1233, 288, 20)
text("mV", 1247, 432, 18)

# ---------------- Panel C ----------------
hz_t = ([0, 1, 2, 3, 4, 5], ["0", "1", "2", "3", "4", "5"])
pw_t = ([0, 0.1, 0.2, 0.3], ["0", "0.1", "0.2", "0.3"])
coh_t = ([0, 0.2, 0.4, 0.6, 0.8, 1], ["0", "0.2", "0.4", "0.6", "0.8", "1"])
ph_t = ([-180, -90, 0, 90, 180], ["-180", "-90", "0", "90", "180"])
cc_t = ([-1, -0.5, 0, 0.5, 1], ["-1", "-0.5", "0", "0.5", "1"])
lag_t = ([-1.5, 0, 1.5], ["-1.5", "0", "1.5"])

p11 = new_axes((58, 308, 593, 793), [0, 5], [0, 0.3], xt=hz_t, yt=pw_t)
p12 = new_axes((367, 621, 593, 793), [0, 5], [0, 0.3], xt=hz_t, yt=pw_t)
p13 = new_axes((706, 961, 593, 793), [-0.05, 5], [0, 0.3], xt=hz_t, yt=pw_t)
p14 = new_axes((1015, 1269, 595, 793), [-0.05, 5], [0, 0.3], xt=hz_t, yt=pw_t)
p21 = new_axes((59, 313, 892, 1097), [0, 5], [-0.01, 1], xt=hz_t, yt=coh_t)
p22 = new_axes((366, 620, 892, 1097), [0, 5], [-0.014, 0.3], xt=hz_t, yt=pw_t)
p23 = new_axes((712, 964, 888, 1098), [-0.04, 5], [-0.03, 1], xt=hz_t, yt=coh_t)
p24 = new_axes((1016, 1270, 893, 1097), [-0.04, 5], [-0.014, 0.3], xt=hz_t, yt=pw_t)
p31 = new_axes((59, 313, 1226, 1433), [-0.16, 5], [-180, 183],
               xt=([0, 1, 2, 3, 4, 5], ["", "1", "2", "3", "4", "5"]), yt=ph_t)
p32 = new_axes((367, 620, 1226, 1432), [-1.5, 1.5], [-1, 1], xt=lag_t, yt=cc_t)
p33 = new_axes((709, 962, 1228, 1433), [-0.1, 5], [-180, 183], xt=hz_t, yt=ph_t)
p34 = new_axes((1016, 1270, 1225, 1431), [-1.5, 1.5], [-1, 1], xt=lag_t, yt=cc_t)

for c in syn_cross:
    line(p11, f_syn, [v / 1000 for v in c], width=0.8, shape="spline")
for c in syn_ecog:
    line(p12, f_syn, [v / 1000 for v in c], width=0.8, shape="spline")
for c in des_cross:
    line(p13, f_des, [v / 1000 for v in c], width=0.8, shape="spline")
for c in des_ecog:
    line(p14, f_des, [v / 1000 for v in c], width=1.0, shape="spline")
for c in syn_coh:
    line(p21, f_coh, [v / 100 for v in c], width=0.8, shape="spline", smoothing=0.6)
for c in syn_vm:
    line(p22, f_syn, [v / 1000 for v in c], width=0.8, shape="spline")
for c in des_coh:
    line(p23, f_coh, [v / 100 for v in c], width=0.8, shape="spline")
for c in des_vm:
    line(p24, f_des, [v / 1000 for v in c], width=1.0, shape="spline")
for c in syn_phase:
    line(p31, f_coh, c, width=1.3)
for c in syn_corr:
    line(p32, lags, c, width=0.8, shape="spline")
for c in des_phase:
    line(p33, f_coh, c, width=0.8, shape="spline")
for c in des_corr:
    line(p34, lags, c, width=1.0)

text("C", 20, 473, 24, italic=True)
text("SYNCHRONISED CORTICAL EPOCHS", 310, 502, 28)
text("DESYNCHRONISED CORTICAL EPOCHS", 980, 502, 28)
# row 1
text("CROSS-SPECTRUM", 183, 542, 24)
text("ECoG", 481, 538, 24)
text("CROSS-SPECTRUM", 835, 537, 24)
text("ECoG", 1133, 533, 24)
text("Power", 41, 571, 18)
text("Power", 347, 573, 18)
text("Power", 691, 565, 18)
text("Power", 998, 568, 18)
for hx_ in (305, 615, 955, 1264):
    text("Hz", hx_, 834, 18)
# row 2
text("COHERENCE", 192, 852, 24)
text("Vm", 487, 852, 24)
text("COHERENCE", 840, 852, 24)
text("Vm", 1138, 852, 24)
text("Coh. Coeff.", 68, 871, 18)
text("Power", 346, 871, 18)
text("Coh. Coeff.", 710, 864, 18)
text("Power", 997, 866, 18)
for hx_, hy_ in ((308, 1136), (614, 1136), (955, 1140), (1265, 1136)):
    text("Hz", hx_, hy_, 18)
# row 3
text("PHASE-SPECTRUM", 182, 1172, 24)
text("CROSS-CORRELOGRAM", 485, 1172, 24)
text("PHASE-SPECTRUM", 824, 1172, 24)
text("CROSS-CORRELOGRAM", 1128, 1172, 24)
text("Degrees", 55, 1203, 18)
text("Corr. Coeff.", 362, 1203, 18)
text("Degrees", 704, 1205, 18)
text("Corr. Coeff.", 1013, 1206, 18)
text("0", 44, 1457, 18)
text("Hz", 314, 1473, 18)
text("S", 614, 1473, 18)
text("Hz", 957, 1475, 18)
text("S", 1257, 1475, 18)

fig.update_layout(**layout)
fig.update_layout(width=W, height=H, margin=dict(l=0, r=0, t=0, b=0), paper_bgcolor="white",
                  plot_bgcolor="white", annotations=annotations, shapes=shapes,
                  font=dict(family=FONT, color=BLACK), showlegend=False)
fig.write_html("out.html",
               post_script="document.body.style.margin='0px';document.body.style.padding='0px';"
                           "document.documentElement.style.overflow='hidden';")
